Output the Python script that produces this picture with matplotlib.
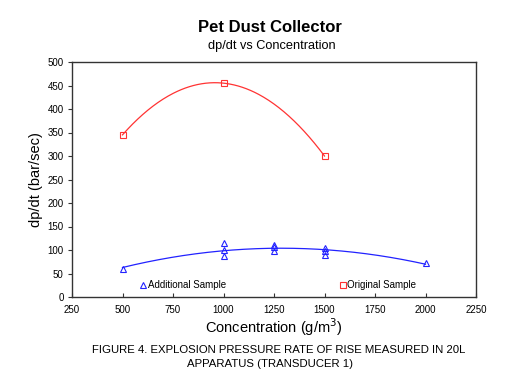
import numpy as np
import matplotlib
matplotlib.use("Agg")
import matplotlib.pyplot as plt

plt.rcParams['font.family'] = ['Liberation Sans', 'DejaVu Sans']

# Original sample (red squares)
orig_conc = [500, 1000, 1500]
orig_dpdt = [345, 455, 300]

# Additional sample (blue triangles)
add_conc = [500, 1000, 1000, 1000, 1250, 1250, 1250, 1500, 1500, 1500, 2000]
add_dpdt = [60, 115, 100, 87, 110, 107, 98, 104, 97, 90, 73]

xticks = [250, 500, 750, 1000, 1250, 1500, 1750, 2000, 2250]
yticks = list(range(0, 501, 50))

fig = plt.figure(figsize=(5.28, 3.78), dpi=100)
ax = fig.add_axes([72 / 528, 1 - 297 / 378, 404 / 528, 235 / 378])

# quadratic fits
c_red = np.polyfit(orig_conc, orig_dpdt, 2)
xr = np.linspace(min(orig_conc), max(orig_conc), 200)
ax.plot(xr, np.polyval(c_red, xr), color='#ff3333', lw=0.9)

c_blue = np.polyfit(add_conc, add_dpdt, 2)
xb = np.linspace(min(add_conc), max(add_conc), 200)
ax.plot(xb, np.polyval(c_blue, xb), color='#2222ff', lw=0.9)

ax.plot(orig_conc, orig_dpdt, ls='none', marker='s', ms=5, mfc='none',
        mec='#ff3333', mew=0.8)
ax.plot(add_conc, add_dpdt, ls='none', marker='^', ms=5, mfc='none',
        mec='#2222ff', mew=0.8)

# in-plot legend labels
ax.plot([600], [25], ls='none', marker='^', ms=4.5, mfc='none', mec='#2222ff', mew=0.8)
ax.text(625, 25, 'Additional Sample', fontsize=7, va='center', ha='left')
ax.plot([1590], [25], ls='none', marker='s', ms=4.5, mfc='none', mec='#ff3333', mew=0.8)
ax.text(1612, 25, 'Original Sample', fontsize=7, va='center', ha='left')

ax.set_xlim(250, 2250)
ax.set_ylim(0, 500)
ax.set_xticks(xticks)
ax.set_yticks(yticks)
ax.tick_params(axis='x', direction='in', length=3, labelsize=7, pad=6, color='#333333')
ax.tick_params(axis='y', direction='out', length=3, labelsize=7, pad=3, color='#333333')
for s in ax.spines.values():
    s.set_color('#333333')
    s.set_linewidth(1.0)

ax.set_xlabel('Concentration (g/m$^3$)', fontsize=10.5, labelpad=1)
ax.set_ylabel('dp/dt (bar/sec)', fontsize=10.5, labelpad=3.5)

fig.text(270 / 528, 1 - 27 / 378, 'Pet Dust Collector', fontsize=12, fontweight='bold',
         ha='center', va='center')
fig.text(272 / 528, 1 - 46 / 378, 'dp/dt vs Concentration', fontsize=9.2,
         ha='center', va='center')
fig.text(279 / 528, 1 - 350 / 378, 'FIGURE 4. EXPLOSION PRESSURE RATE OF RISE MEASURED IN 20L',
         fontsize=8.2, ha='center', va='center')
fig.text(270 / 528, 1 - 364 / 378, 'APPARATUS (TRANSDUCER 1)',
         fontsize=8.2, ha='center', va='center')

fig.savefig('out.png', dpi=100)
